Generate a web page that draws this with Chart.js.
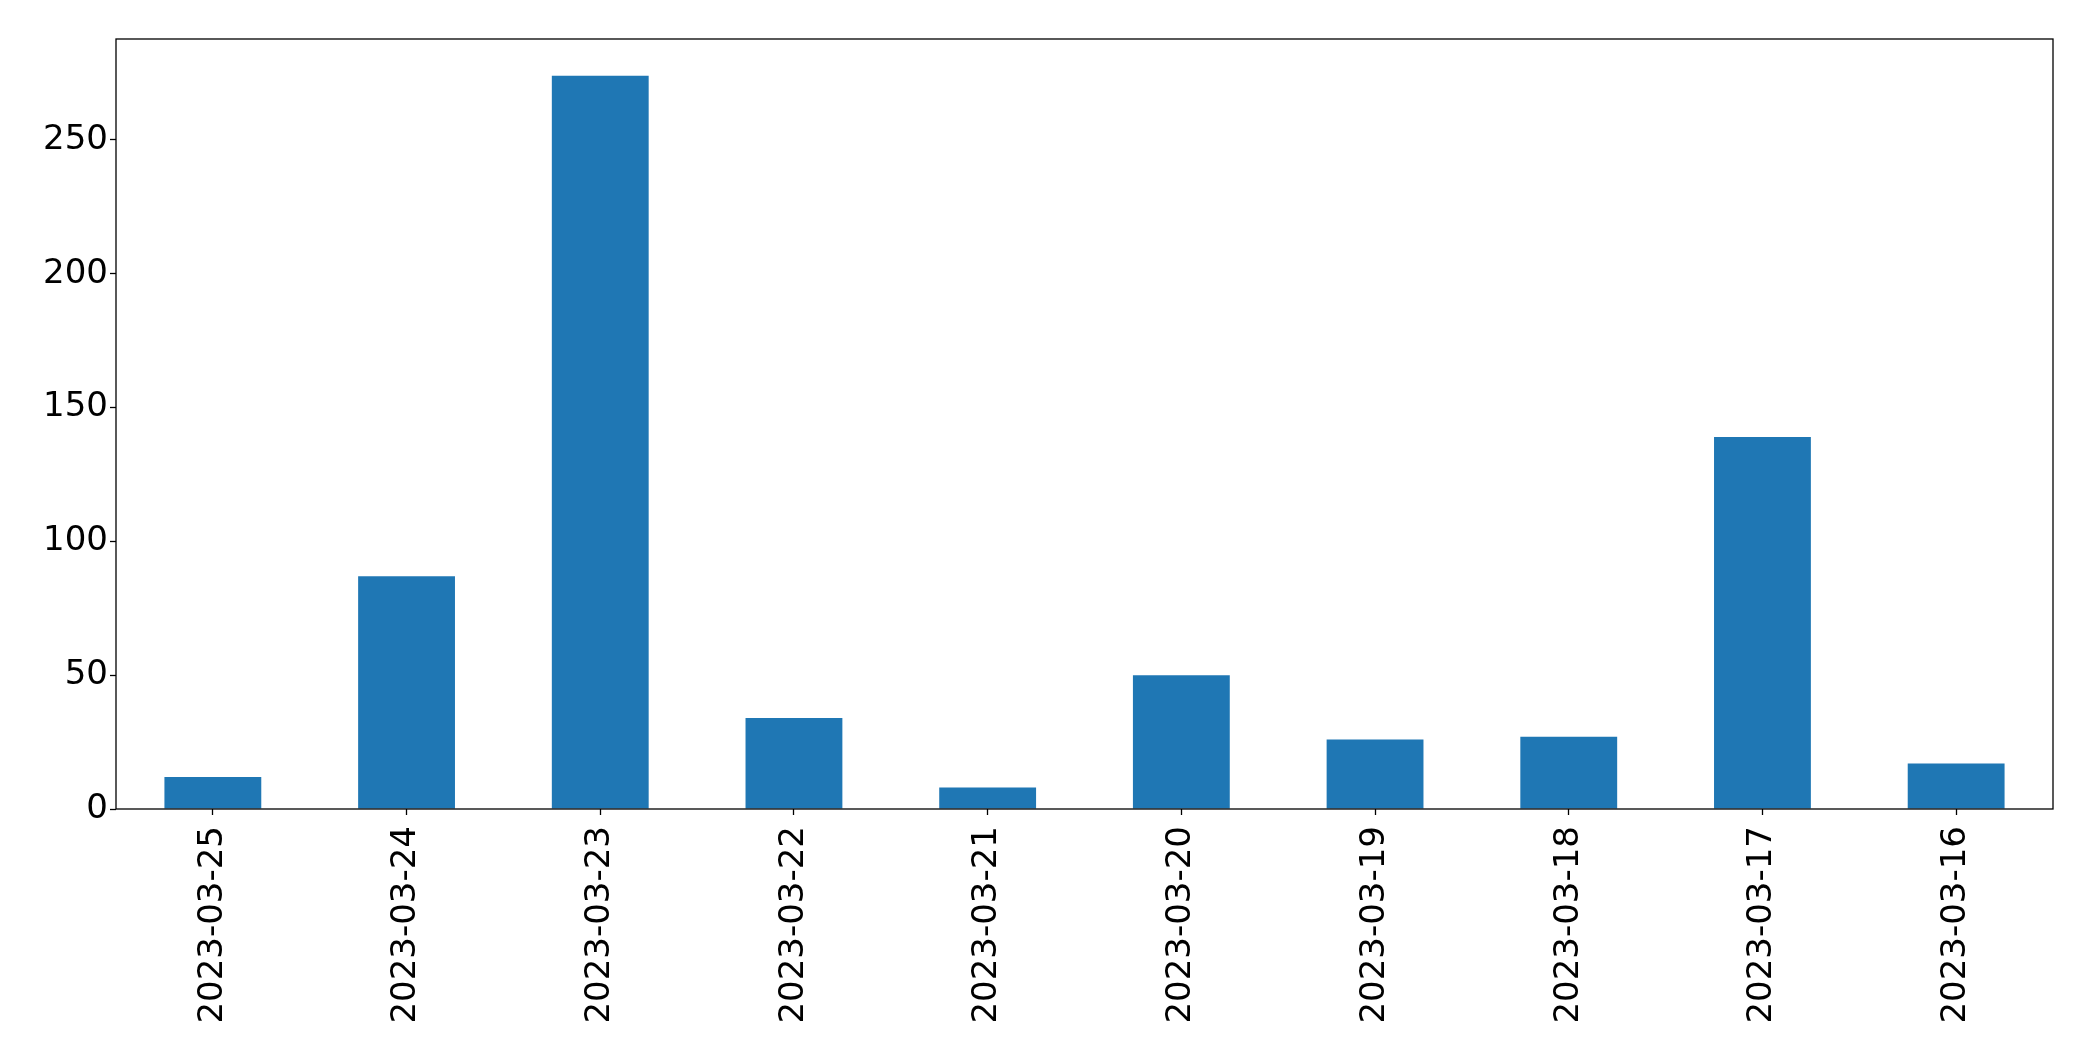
<!DOCTYPE html><html lang="en"><head>
    <meta charset="utf-8">
    <script src="https://cdn.jsdelivr.net/npm/chart.js@4/dist/chart.umd.min.js"></script>
    <style>
      html, body { margin: 0; padding: 0; background: #fff; }
      #wrap { width: 2093px; height: 1061px; }
    </style>
  </head>
  <body>
    <div id="wrap"><canvas id="myChart"></canvas></div>
    <script>
      const dates = ['2023-03-25', '2023-03-24', '2023-03-23', '2023-03-22', '2023-03-21',
                     '2023-03-20', '2023-03-19', '2023-03-18', '2023-03-17', '2023-03-16'];
      const counts = [12, 87, 274, 34, 8, 50, 26, 27, 139, 17];
      const yTicks = [0, 50, 100, 150, 200, 250];
      const yMax = 287.7;

      // box round the plot area, like the matplotlib spines
      const frame = {
        id: 'frame',
        afterDraw(chart) {
          const a = chart.chartArea, c = chart.ctx;
          c.save();
          c.strokeStyle = '#000';
          c.lineWidth = 1.3;
          c.strokeRect(a.left, a.top, a.right - a.left, a.bottom - a.top);
          c.restore();
        }
      };

      const font = { family: '"DejaVu Sans", sans-serif', size: 34 };
      const ctx = document.getElementById('myChart').getContext('2d');
      const myChart = new Chart(ctx, {
        type: 'bar',
        data: {
          labels: dates,
          datasets: [{
            data: counts,
            backgroundColor: '#1f77b4',
            borderWidth: 0,
            barPercentage: 0.5,
            categoryPercentage: 1.0
          }]
        },
        options: {
          responsive: true,
          maintainAspectRatio: false,
          animation: false,
          layout: { padding: { top: 39, right: 40, left: 0, bottom: 0 } },
          plugins: { legend: { display: false }, tooltip: { enabled: false } },
          scales: {
            x: {
              grid: { offset: false, drawOnChartArea: false, tickLength: 6, tickColor: '#000', tickWidth: 1.3 },
              border: { display: false },
              ticks: { color: '#000', font: font, maxRotation: 90, minRotation: 90, padding: 11 },
              afterFit(scale) { scale.height = 1061 - 809; }
            },
            y: {
              min: 0,
              max: yMax,
              grid: { drawOnChartArea: false, tickLength: 6, tickColor: '#000', tickWidth: 1.3 },
              border: { display: false },
              ticks: { color: '#000', font: font, padding: 2 },
              afterBuildTicks(scale) { scale.ticks = yTicks.map(v => ({ value: v })); },
              afterFit(scale) { scale.width = 116; }
            }
          }
        },
        plugins: [frame]
      });
    </script>
</body></html>
